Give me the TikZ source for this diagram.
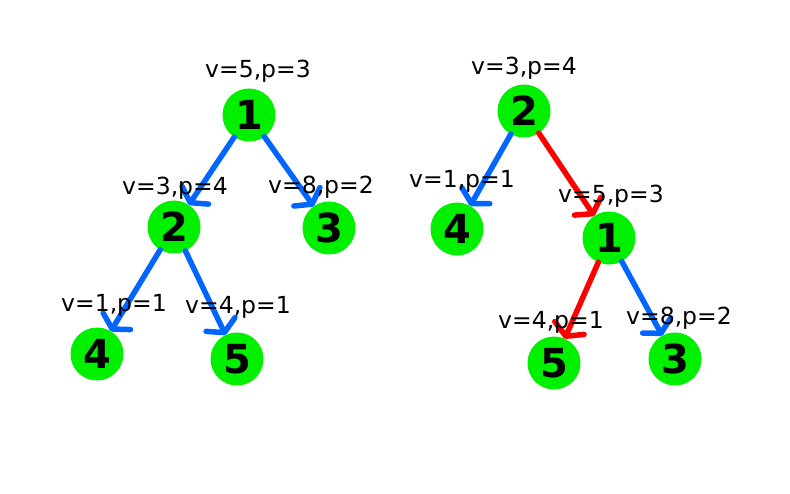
\documentclass[tikz,border=0pt]{standalone}
\usepackage{fontspec}
\setmainfont{DejaVu Sans}
\usetikzlibrary{arrows.meta}
\definecolor{nodegreen}{RGB}{0,240,0}
\definecolor{edgeblue}{RGB}{0,102,255}
\definecolor{edgered}{RGB}{255,0,0}
\begin{document}
\begin{tikzpicture}[x=1pt,y=-1pt,
  vert/.style={circle,fill=nodegreen,minimum size=53pt,inner sep=0pt,outer sep=0pt,
    font=\fontsize{40}{40}\selectfont\bfseries},
  lab/.style={font=\fontsize{23.5}{24}\selectfont,inner sep=0pt,anchor=base},
  edgeline/.style={line width=5.5pt,line cap=round,
    -{Straight Barb[length=9pt,width=32pt,round]}},
  blueedge/.style={edgeline,draw=edgeblue},
  rededge/.style={edgeline,draw=edgered}]
\useasboundingbox (0,0) rectangle (790,494);
% left tree
\node[vert] (L1) at (249,115) {1};
\node[vert] (L2) at (174,227) {2};
\node[vert] (L3) at (329,228) {3};
\node[vert] (L4) at (97,354) {4};
\node[vert] (L5) at (237,359) {5};
% right tree
\node[vert] (R2) at (524,111) {2};
\node[vert] (R4) at (457,229) {4};
\node[vert] (R1) at (609,238) {1};
\node[vert] (R5) at (554,363) {5};
\node[vert] (R3) at (675,359) {3};
% edges
\draw[blueedge] (L1) -- (L2);
\draw[blueedge] (L1) -- (L3);
\draw[blueedge] (L2) -- (L4);
\draw[blueedge] (L2) -- (L5);
\draw[blueedge] (R2) -- (R4);
\draw[rededge] (R2) -- (R1);
\draw[rededge] (R1) -- (R5);
\draw[blueedge] (R1) -- (R3);
% labels
\node[lab] (tL1) at (258,78) {v=5,p=3};
\node[lab] (tL2) at (175,195) {v=3,p=4};
\node[lab] (tL3) at (321,194) {v=8,p=2};
\node[lab] (tL4) at (114,312) {v=1,p=1};
\node[lab] (tL5) at (238,314) {v=4,p=1};
\node[lab] (tR2) at (524,75) {v=3,p=4};
\node[lab] (tR4) at (462,188) {v=1,p=1};
\node[lab] (tR1) at (611,203) {v=5,p=3};
\node[lab] (tR5) at (551,329) {v=4,p=1};
\node[lab] (tR3) at (679,325) {v=8,p=2};
\end{tikzpicture}
\end{document}
